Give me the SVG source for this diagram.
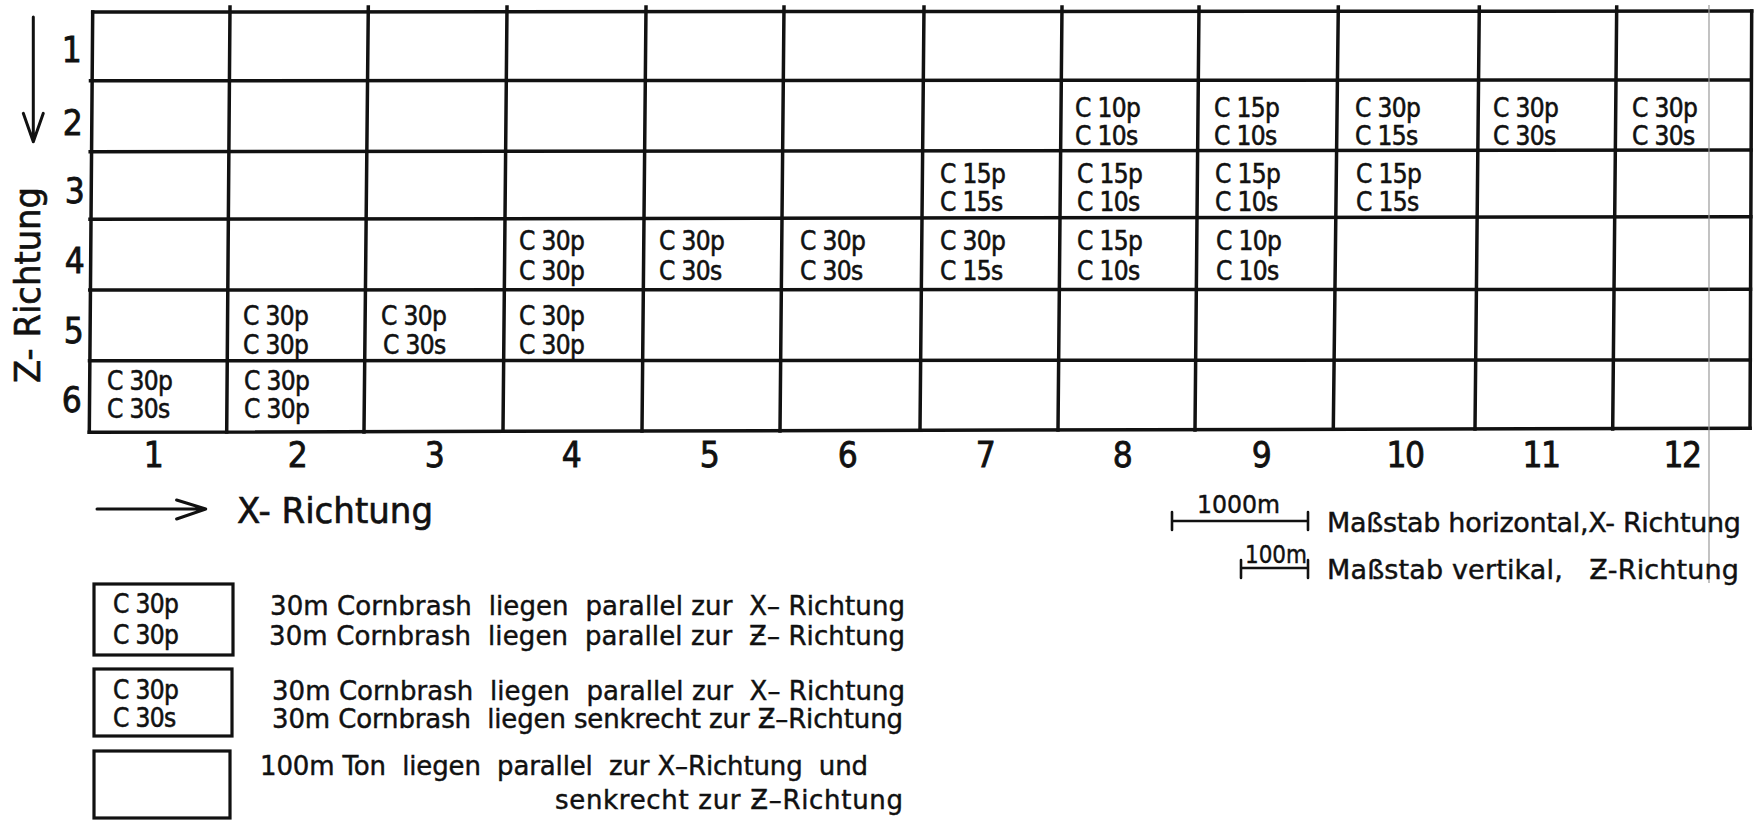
<svg xmlns="http://www.w3.org/2000/svg" width="1756" height="821" viewBox="0 0 1756 821">
<style>
.bg{fill:#ffffff}
.grid{fill:none;stroke:#111;stroke-width:3.5;stroke-linecap:square}
.ln{fill:none;stroke:#111;stroke-width:3;stroke-linecap:round;stroke-linejoin:round}
.box{fill:none;stroke:#111;stroke-width:3.2}
.cell{font-family:"DejaVu Sans Condensed","DejaVu Sans",sans-serif;font-size:26px;fill:#111;stroke:#111;stroke-width:0.55;letter-spacing:-0.6px}
.num{font-family:"DejaVu Sans Condensed","DejaVu Sans",sans-serif;font-size:35px;fill:#111;stroke:#111;stroke-width:0.8;letter-spacing:-1.5px}
.axis{font-family:"DejaVu Sans Condensed","DejaVu Sans",sans-serif;font-size:36px;fill:#111;stroke:#111;stroke-width:0.6}
.leg{font-family:"DejaVu Sans","Liberation Sans",sans-serif;font-size:26px;fill:#111;stroke:#111;stroke-width:0.45}
.sc{font-family:"DejaVu Sans Condensed","DejaVu Sans",sans-serif;font-size:24px;fill:#111;stroke:#111;stroke-width:0.4}
.scan{stroke:#9a9a9a;stroke-width:1.2}
</style>
<rect class="bg" x="0" y="0" width="1756" height="821"/>

<g id="grid">
<path class="grid" d="M92.7,12 L1751.7,11 M90.5,80.7 L1751,80 M90.2,151.7 L1751,150 M90,219.3 L1750.8,216.7 M89.8,290 L1750.5,289.3 M89.5,360.7 L1750.3,360 M89.3,432.3 L1750,428.3"/>
<path class="grid" d="M92.7,12 L89.3,432.3 M230,7 L226.7,432 M368.3,7 L364,432 M507,7 L503,431 M646,7 L642,431 M784,7 L780,431 M924,7 L920,430 M1062,7 L1058,430 M1199,7 L1195,430 M1338.3,7 L1333.3,429 M1479.3,7 L1475,429 M1616.7,7 L1612.7,429 M1751.7,11 L1750,428.3"/>
</g>

<line id="scanline" class="scan" x1="1709" y1="5" x2="1709" y2="583"/>

<g id="connectors">
<path class="ln" d="M33.3,17 L33.3,141.7 M23.3,113.3 L33.3,141.7 L43.3,113.3"/>
<path class="ln" d="M97,509 L205.7,509 M176.6,500 L205.7,509 L176.6,519"/>
</g>

<g id="row-labels" class="num" text-anchor="middle">
<text x="71" y="62">1</text>
<text x="72" y="135">2</text>
<text x="74" y="203">3</text>
<text x="74" y="273">4</text>
<text x="73" y="343">5</text>
<text x="71" y="412">6</text>
</g>

<g id="col-labels" class="num" text-anchor="middle">
<text x="153" y="467">1</text>
<text x="297" y="467">2</text>
<text x="434" y="467">3</text>
<text x="571" y="467">4</text>
<text x="709" y="467">5</text>
<text x="847" y="467">6</text>
<text x="985" y="467">7</text>
<text x="1122" y="467">8</text>
<text x="1261" y="467">9</text>
<text x="1405" y="467">10</text>
<text x="1541" y="467">11</text>
<text x="1682" y="467">12</text>
</g>

<g id="axis-z">
<text class="axis" transform="translate(40,383) rotate(-90)" x="0" y="0" textLength="196" lengthAdjust="spacingAndGlyphs">Z- Richtung</text>
</g>
<g id="axis-x">
<text class="axis" x="237" y="523" textLength="196" lengthAdjust="spacingAndGlyphs">X- Richtung</text>
</g>

<g id="cells" class="cell">
<g id="c-r2-c8"><text x="1075" y="117">C 10p</text><text x="1075" y="145">C 10s</text></g>
<g id="c-r2-c9"><text x="1214" y="117">C 15p</text><text x="1214" y="145">C 10s</text></g>
<g id="c-r2-c10"><text x="1355" y="117">C 30p</text><text x="1355" y="145">C 15s</text></g>
<g id="c-r2-c11"><text x="1493" y="117">C 30p</text><text x="1493" y="145">C 30s</text></g>
<g id="c-r2-c12"><text x="1632" y="117">C 30p</text><text x="1632" y="145">C 30s</text></g>

<g id="c-r3-c7"><text x="940" y="183">C 15p</text><text x="940" y="211">C 15s</text></g>
<g id="c-r3-c8"><text x="1077" y="183">C 15p</text><text x="1077" y="211">C 10s</text></g>
<g id="c-r3-c9"><text x="1215" y="183">C 15p</text><text x="1215" y="211">C 10s</text></g>
<g id="c-r3-c10"><text x="1356" y="183">C 15p</text><text x="1356" y="211">C 15s</text></g>

<g id="c-r4-c4"><text x="519" y="250">C 30p</text><text x="519" y="280">C 30p</text></g>
<g id="c-r4-c5"><text x="659" y="250">C 30p</text><text x="659" y="280">C 30s</text></g>
<g id="c-r4-c6"><text x="800" y="250">C 30p</text><text x="800" y="280">C 30s</text></g>
<g id="c-r4-c7"><text x="940" y="250">C 30p</text><text x="940" y="280">C 15s</text></g>
<g id="c-r4-c8"><text x="1077" y="250">C 15p</text><text x="1077" y="280">C 10s</text></g>
<g id="c-r4-c9"><text x="1216" y="250">C 10p</text><text x="1216" y="280">C 10s</text></g>

<g id="c-r5-c2"><text x="243" y="325">C 30p</text><text x="243" y="354">C 30p</text></g>
<g id="c-r5-c3"><text x="381" y="325">C 30p</text><text x="383" y="354">C 30s</text></g>
<g id="c-r5-c4"><text x="519" y="325">C 30p</text><text x="519" y="354">C 30p</text></g>

<g id="c-r6-c1"><text x="107" y="390">C 30p</text><text x="107" y="418">C 30s</text></g>
<g id="c-r6-c2"><text x="244" y="390">C 30p</text><text x="244" y="418">C 30p</text></g>
</g>

<g id="scale-horizontal">
<path class="ln" style="stroke-width:2.6" d="M1172,521 L1308,521 M1172,512 L1172,530 M1308,512 L1308,530"/>
<text class="sc" x="1197" y="513" textLength="83" lengthAdjust="spacingAndGlyphs">1000m</text>
<text class="leg" style="font-size:27px" x="1327" y="532" textLength="414" lengthAdjust="spacing">Maßstab horizontal,X- Richtung</text>
</g>
<g id="scale-vertical">
<path class="ln" style="stroke-width:2.6" d="M1241,568 L1308,568 M1241,560 L1241,578 M1308,560 L1308,578"/>
<text class="sc" x="1245" y="563" textLength="62" lengthAdjust="spacingAndGlyphs">100m</text>
<text class="leg" style="font-size:27px" x="1327" y="579" textLength="412" lengthAdjust="spacing" xml:space="preserve">Maßstab vertikal,   Ƶ-Richtung</text>
</g>

<g id="legend-1">
<rect class="box" x="94" y="584" width="139" height="71"/>
<text class="cell" x="113" y="613">C 30p</text>
<text class="cell" x="113" y="644">C 30p</text>
<text class="leg" x="270" y="615" textLength="635" lengthAdjust="spacing" xml:space="preserve">30m Cornbrash  liegen  parallel zur  X– Richtung</text>
<text class="leg" x="269" y="645" textLength="636" lengthAdjust="spacing" xml:space="preserve">30m Cornbrash  liegen  parallel zur  Ƶ– Richtung</text>
</g>
<g id="legend-2">
<rect class="box" x="94" y="669" width="138" height="67"/>
<text class="cell" x="113" y="699">C 30p</text>
<text class="cell" x="113" y="727">C 30s</text>
<text class="leg" x="272" y="700" textLength="633" lengthAdjust="spacing" xml:space="preserve">30m Cornbrash  liegen  parallel zur  X– Richtung</text>
<text class="leg" x="272" y="728" textLength="631" lengthAdjust="spacing" xml:space="preserve">30m Cornbrash  liegen senkrecht zur Ƶ–Richtung</text>
</g>
<g id="legend-3">
<rect class="box" x="94" y="751" width="136" height="67"/>
<text class="leg" x="260" y="775" textLength="608" lengthAdjust="spacing" xml:space="preserve">100m Ton  liegen  parallel  zur X–Richtung  und</text>
<text class="leg" x="555" y="809" textLength="348" lengthAdjust="spacing">senkrecht zur Ƶ–Richtung</text>
</g>
</svg>
